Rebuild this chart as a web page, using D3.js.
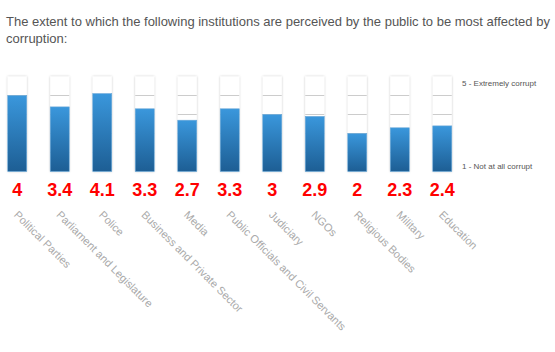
<!DOCTYPE html>
<html>
<head>
<meta charset="utf-8">
<script src="https://cdn.jsdelivr.net/npm/d3@7"></script>
<style>
  body{margin:0;background:#fff;overflow:hidden;}
  svg{display:block;}
</style>
</head>
<body>
<svg id="drawing_region"></svg>
<script>
const categories = ["Political Parties","Parliament and Legislature","Police","Business and Private Sector","Media","Public Officials and Civil Servants","Judiciary","NGOs","Religious Bodies","Military","Education"];
const values = [4,3.4,4.1,3.3,2.7,3.3,3,2.9,2,2.3,2.4];
const scale_labels = ["1 - Not at all corrupt","5 - Extremely corrupt"];
const title_lines = ["The extent to which the following institutions are perceived by the public to be most affected by","corruption:"];

const config = {
    width:555,
    height:352,
    margin:{top:76.5,left:-4},
    plot_width:467.5,
    plot_height:95,
    bar_width:19
};

const svg = d3.select("#drawing_region")
    .attr("width",config.width)
    .attr("height",config.height)

const defs = svg.append("defs")
const grad = defs.append("linearGradient")
    .attr("id","bar_grad")
    .attr("x1",0).attr("y1",0).attr("x2",0).attr("y2",1)
grad.append("stop").attr("offset","0%").attr("stop-color","#3a97dc")
grad.append("stop").attr("offset","100%").attr("stop-color","#1d5e94")
const shadow = defs.append("filter")
    .attr("id","shadow")
    .attr("x","-30%").attr("y","-10%").attr("width","160%").attr("height","120%")
shadow.append("feDropShadow")
    .attr("dx",0).attr("dy",0).attr("stdDeviation",1.2)
    .attr("flood-color","#000").attr("flood-opacity",0.25)

svg.selectAll(".title")
    .data(title_lines)
    .enter()
    .append("text")
    .attr("x",6)
    .attr("y",(d,i)=>26+i*17)
    .attr("font-family","Liberation Sans, Arial, sans-serif")
    .attr("font-size",13)
    .attr("fill","#555")
    .text(d=>d)

const chart = svg.append("g")
    .attr("transform",`translate(${config.margin.left},${config.margin.top})`)

const xscale = d3.scaleBand()
    .domain(categories)
    .range([0,config.plot_width])
    .paddingInner(0.553)
    .paddingOuter(0.276)
const yscale = d3.scaleLinear()
    .domain([0,5])
    .range([config.plot_height,0])

const cols = chart.selectAll(".col")
    .data(categories.map((c,i)=>({label:c,value:values[i]})))
    .enter()
    .append("g")
    .attr("class","col")
    .attr("transform",d=>`translate(${xscale(d.label)},0)`)

cols.append("rect")
    .attr("x",0)
    .attr("y",yscale(5))
    .attr("width",xscale.bandwidth())
    .attr("height",yscale(0)-yscale(5))
    .attr("fill","#fff")
    .attr("filter","url(#shadow)")

cols.selectAll(".grid")
    .data([1,2,3,4])
    .enter()
    .append("line")
    .attr("x1",0)
    .attr("x2",xscale.bandwidth())
    .attr("y1",d=>yscale(d))
    .attr("y2",d=>yscale(d))
    .attr("stroke","#ccc")
    .attr("stroke-width",1)

cols.append("rect")
    .attr("x",0)
    .attr("y",d=>yscale(d.value))
    .attr("width",xscale.bandwidth())
    .attr("height",d=>yscale(0)-yscale(d.value))
    .attr("fill","url(#bar_grad)")
    .attr("stroke","#6aa8d8")
    .attr("stroke-width",0.6)

cols.append("text")
    .attr("x",xscale.bandwidth()/2)
    .attr("y",config.plot_height+24)
    .attr("text-anchor","middle")
    .attr("font-family","Liberation Sans Narrow, Arial Narrow, sans-serif")
    .attr("font-weight","bold")
    .attr("font-size",18)
    .attr("fill","#ff0000")
    .text(d=>d.value)

cols.append("text")
    .attr("transform",`translate(${xscale.bandwidth()/2-4},${config.plot_height+44}) rotate(45)`)
    .attr("font-family","Liberation Sans, Arial, sans-serif")
    .attr("font-size",11)
    .attr("fill","#aaa")
    .text(d=>d.label)

chart.selectAll(".scale_label")
    .data(scale_labels)
    .enter()
    .append("text")
    .attr("x",config.plot_width-1.5)
    .attr("y",(d,i)=>i==0 ? yscale(0)-2.5 : yscale(5)+9.5)
    .attr("font-family","Liberation Sans, Arial, sans-serif")
    .attr("font-size",8)
    .attr("fill","#555")
    .text(d=>d)
</script>
</body>
</html>
